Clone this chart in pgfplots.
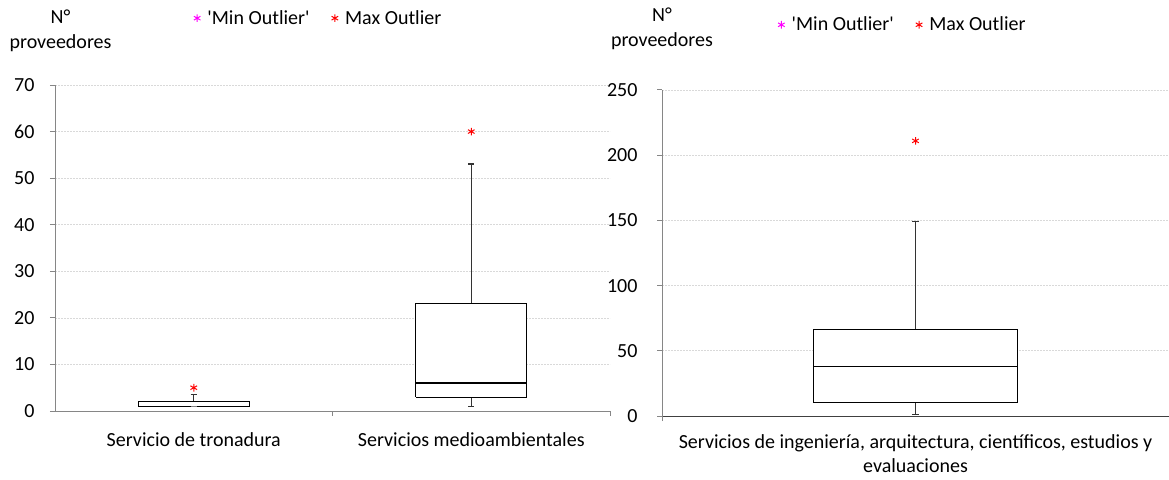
\documentclass[border=0pt]{standalone}
\usepackage{fontspec}
\setmainfont{Carlito}
\usepackage{pgfplots}
\pgfplotsset{compat=1.18}

\definecolor{axgray}{HTML}{868686}
\definecolor{gridgray}{HTML}{D9D9D9}
\definecolor{outred}{HTML}{FF0000}
\definecolor{outmag}{HTML}{FF00FF}

\pgfplotsset{
  box base/.style={
    scale only axis,
    anchor=south west,
    font=\fontsize{20bp}{24bp}\selectfont,
    /pgf/number format/assume math mode=true,
    axis x line=bottom, axis y line=left,
    axis line style={-, draw=axgray, line width=1bp},
    tick align=outside,
    major tick length=5bp,
    tick style={draw=axgray, line width=1bp},
    ymajorgrids,
    grid style={gridgray, dash pattern=on 2bp off 1bp, line width=0.6bp},
    legend style={draw=none, fill=none, legend columns=-1,
      font=\fontsize{20bp}{24bp}\selectfont,
      /tikz/every odd column/.append style={column sep=5bp},
      /tikz/every even column/.append style={column sep=20bp}},
  },
  bx/.style={forget plot, black, line width=0.9bp, mark=none},
  wh/.style={forget plot, black!80, line width=1.4bp, mark=none},
  outl/.style={only marks, mark=asterisk, mark size=3.8bp, line width=1bp},
}

\begin{document}
\begin{tikzpicture}
\useasboundingbox (0,0) rectangle (1169bp,480bp);

% left chart
\begin{axis}[box base,
  at={(55bp,69bp)}, width=555bp, height=326bp,
  xmin=-0.5, xmax=1.5, ymin=0, ymax=70,
  ytick={0,10,...,70},
  yticklabel style={xshift=-12bp},
  xtick={0,1},
  xticklabels={Servicio de tronadura, Servicios medioambientales},
  major x tick style={draw=none},
  xticklabel style={yshift=-13bp},
  extra x ticks={0.5,1.5}, extra x tick labels={},
  extra x tick style={major x tick style={draw=axgray, line width=1bp}},
  ylabel={N°\\proveedores},
  every axis y label/.style={at={(rel axis cs:0.01,1.166)}, align=center, anchor=center,
    font=\fontsize{20bp}{25bp}\selectfont},
  legend style={at={(0.475,1.205)}, anchor=center},
]
% Servicio de tronadura: min 1, q1 1, median 1, q3 2, max 3.5
\addplot[wh] coordinates {(0,2) (0,3.5)};
\addplot[wh] coordinates {(-0.011,3.5) (0.011,3.5)};
\addplot[bx, fill=white] coordinates {(-0.2,1) (0.2,1) (0.2,2) (-0.2,2) (-0.2,1)};
\addplot[forget plot, gray, line width=1.4bp] coordinates {(-0.011,1) (0.011,1)};
% Servicios medioambientales: min 1, q1 3, median 6, q3 23, max 53
\addplot[wh] coordinates {(1,23) (1,53)};
\addplot[wh] coordinates {(0.989,53) (1.011,53)};
\addplot[wh] coordinates {(1,3) (1,1)};
\addplot[wh] coordinates {(0.989,1) (1.011,1)};
\addplot[bx, fill=white] coordinates {(0.8,3) (1.2,3) (1.2,23) (0.8,23) (0.8,3)};
\addplot[bx, line width=1.2bp] coordinates {(0.8,6) (1.2,6)};
\addlegendimage{outl, outmag}
\addlegendentry{\textquotesingle Min Outlier\textquotesingle}
\addplot[outl, outred] coordinates {(0,5) (1,60)};
\addlegendentry{Max Outlier}
\end{axis}

% right chart
\begin{axis}[box base,
  at={(662bp,64bp)}, width=507bp, height=326bp,
  xmin=-0.5, xmax=0.5, ymin=0, ymax=250,
  ytick={0,50,...,250},
  yticklabel style={xshift=-16bp},
  x axis line style={draw=black!75},
  xtick={0},
  xticklabels={{Servicios de ingeniería{,} arquitectura{,} científicos{,} estudios y\\evaluaciones}},
  major x tick style={draw=none},
  xticklabel style={align=center, yshift=-10bp},
  extra x ticks={-0.5,0.5}, extra x tick labels={},
  extra x tick style={major x tick style={draw=axgray, line width=1bp}},
  ylabel={N°\\proveedores},
  every axis y label/.style={at={(rel axis cs:0,1.187)}, align=center, anchor=center,
    font=\fontsize{20bp}{25bp}\selectfont},
  legend style={at={(0.475,1.2)}, anchor=center},
]
% min 1, q1 10.5, median 38, q3 66, max 149
\addplot[wh] coordinates {(0,66) (0,149)};
\addplot[wh] coordinates {(-0.006,149) (0.006,149)};
\addplot[wh] coordinates {(0,10.5) (0,1)};
\addplot[wh] coordinates {(-0.006,1) (0.006,1)};
\addplot[bx, fill=white] coordinates {(-0.202,10.5) (0.202,10.5) (0.202,66) (-0.202,66) (-0.202,10.5)};
\addplot[bx, line width=1.2bp] coordinates {(-0.202,38) (0.202,38)};
\addlegendimage{outl, outmag}
\addlegendentry{\textquotesingle Min Outlier\textquotesingle}
\addplot[outl, outred] coordinates {(0,211)};
\addlegendentry{Max Outlier}
\end{axis}
\end{tikzpicture}
\end{document}
